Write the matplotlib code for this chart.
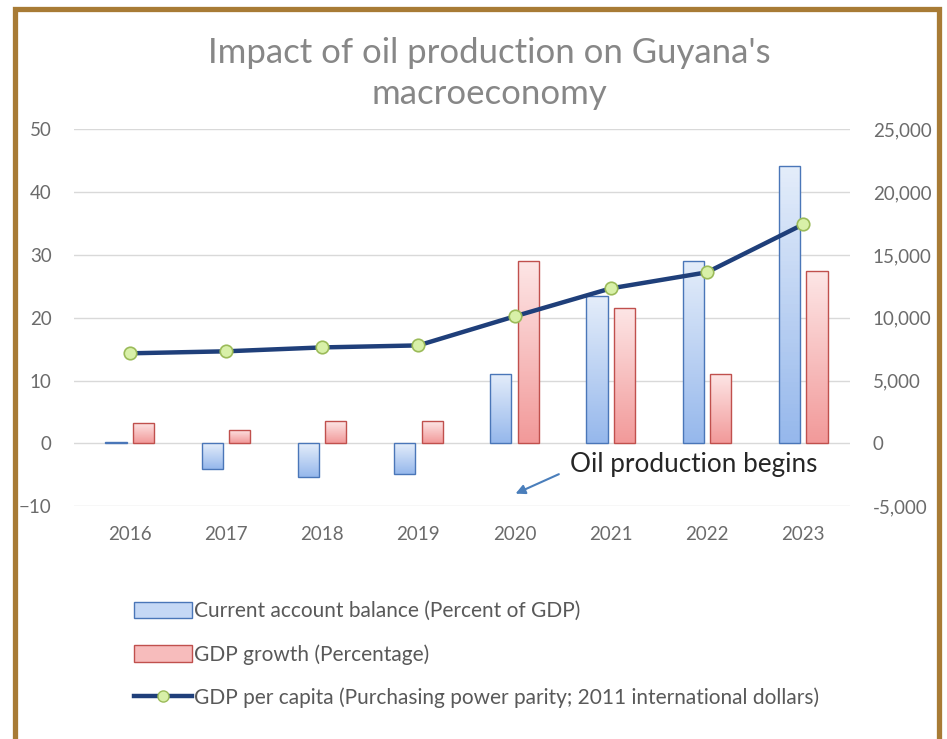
import numpy as np
import matplotlib.pyplot as plt
from matplotlib.colors import LinearSegmentedColormap
from matplotlib.patches import Rectangle, Patch
from matplotlib.lines import Line2D
from matplotlib.ticker import FuncFormatter

plt.rcParams['font.family'] = ['Lato', 'DejaVu Sans']

years = ['2016', '2017', '2018', '2019', '2020', '2021', '2022', '2023']
current_account = [0.2, -4.1, -5.4, -4.8, 11.1, 23.4, 29.1, 44.1]
gdp_growth = [3.2, 2.1, 3.5, 3.5, 29.1, 21.5, 11.1, 27.5]
gdp_per_capita = [7170, 7330, 7640, 7800, 10110, 12340, 13620, 17440]

title = "Impact of oil production on Guyana's\nmacroeconomy"
labels = ['Current account balance (Percent of GDP)',
          'GDP growth (Percentage)',
          'GDP per capita (Purchasing power parity; 2011 international dollars)']

blue_cmap = LinearSegmentedColormap.from_list('b', ['#e4edfa', '#96b8ec'])
red_cmap = LinearSegmentedColormap.from_list('r', ['#fde6e6', '#f29a9a'])
grad = np.linspace(0, 1, 64).reshape(-1, 1)

fig = plt.figure(figsize=(9.47, 7.39), dpi=100)
ax = fig.add_axes([0.078, 0.315, 0.82, 0.51])
ax2 = ax.twinx()

x = np.arange(len(years))
w = 0.22
off = 0.143


def gradient_bars(xs, vals, cmap, edge):
    bars = ax.bar(xs, vals, width=w, facecolor='none', edgecolor=edge, linewidth=1.0, zorder=3)
    for b in bars:
        x0, y0 = b.get_x(), b.get_y()
        x1, y1 = x0 + b.get_width(), y0 + b.get_height()
        lo, hi = min(y0, y1), max(y0, y1)
        im = ax.imshow(grad, extent=[x0, x1, lo, hi], aspect='auto', cmap=cmap,
                       origin='upper', zorder=2)
        im.set_clip_path(b)
    return bars


gradient_bars(x - off, current_account, blue_cmap, '#4a76b8')
gradient_bars(x + off, gdp_growth, red_cmap, '#c0504d')

ax.set_xlim(-0.58, 7.49)
ax.set_ylim(-10, 50)
ax.set_yticks(range(-10, 51, 10))
ax.grid(axis='y', color='#d9d9d9', linewidth=1)
ax.set_axisbelow(True)
ax.set_xticks(x)
ax.set_xticklabels(years)

ax2.plot(x, gdp_per_capita, color='#1f3f7a', linewidth=3.2, marker='o',
         markersize=9, markerfacecolor='#d8f0a8', markeredgecolor='#9bbb59',
         markeredgewidth=1.2, zorder=5)
ax2.set_ylim(-5000, 25000)
ax2.set_yticks(range(-5000, 25001, 5000))
ax2.yaxis.set_major_formatter(FuncFormatter(lambda v, p: f'{int(v):,}'))

for a in (ax, ax2):
    for s in a.spines.values():
        s.set_visible(False)
    a.tick_params(length=0, labelsize=13.5, colors='#6b6b6b', pad=16)
ax.tick_params(axis='x', pad=14)

fig.text(0.517, 0.9, title, ha='center', va='center', fontsize=25, color='#878787',
         linespacing=1.35)

ax.annotate('', xy=(4.01, -8.0), xytext=(4.46, -4.9),
            arrowprops=dict(arrowstyle='-|>', color='#4a7ebb', lw=1.5,
                            mutation_scale=14, shrinkA=0, shrinkB=0))
ax.text(4.58, -3.3, 'Oil production begins', fontsize=18.8, color='#262626',
        ha='left', va='center')

handles = [Patch(facecolor='#c5d8f5', edgecolor='#4a76b8'),
           Patch(facecolor='#f7bcbc', edgecolor='#c0504d'),
           Line2D([], [], color='#1f3f7a', linewidth=3.2, marker='o', markersize=8,
                  markerfacecolor='#d8f0a8', markeredgecolor='#9bbb59')]
fig.legend(handles, labels, loc='upper left', bbox_to_anchor=(0.122, 0.212),
           frameon=False, fontsize=15, labelcolor='#595959', handlelength=2.75,
           handleheight=0.85, handletextpad=0.1, labelspacing=1.1)

fig.patches.append(Rectangle((14.5 / 947, -0.02), (938.5 - 14.5) / 947, 0.02 + 1 - 9 / 739,
                             transform=fig.transFigure, fill=False,
                             edgecolor='#a87b35', linewidth=3.8))

fig.savefig('out.png', dpi=100)
